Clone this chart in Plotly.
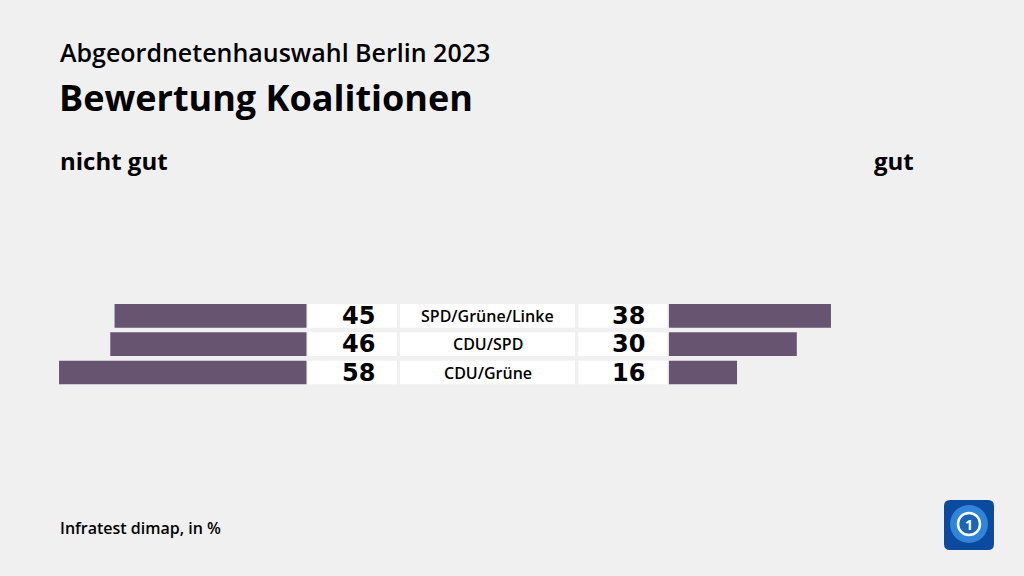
import plotly.graph_objects as go

# ---- data ----
koalitionen = ["SPD/Grüne/Linke", "CDU/SPD", "CDU/Grüne"]
nicht_gut = [45, 46, 58]
gut = [38, 30, 16]

W, H = 1024, 576
BG = "#f0f0f0"
BAR = "#675470"
FONT = "Open Sans"
NUMFONT = "DejaVu Sans"
rows = list(range(len(koalitionen)))


def px(x):
    return x / W


def py(y):
    return (H - y) / H


fig = go.Figure()
fig.add_trace(go.Bar(y=rows, x=nicht_gut, orientation="h", xaxis="x", yaxis="y",
                     marker=dict(color=BAR, line=dict(width=0)), width=0.837,
                     hoverinfo="skip", showlegend=False))
fig.add_trace(go.Bar(y=rows, x=gut, orientation="h", xaxis="x2", yaxis="y",
                     marker=dict(color=BAR, line=dict(width=0)), width=0.837,
                     hoverinfo="skip", showlegend=False))

scale = 4.27  # px per percent
left_end = 306.7
right_start = 668.7

shapes = []
annotations = []
for i, (lab, a, b) in enumerate(zip(koalitionen, nicht_gut, gut)):
    for x0, x1 in [(307.7, 397), (400, 575), (578.3, 667.3)]:
        shapes.append(dict(type="rect", xref="paper", yref="y", x0=px(x0), x1=px(x1),
                           y0=i - 0.4185, y1=i + 0.4185, fillcolor="#ffffff",
                           line=dict(width=0), layer="below"))
    annotations.append(dict(xref="paper", yref="y", x=px(487.5), y=i, text=lab,
                            showarrow=False, xanchor="center", yanchor="middle",
                            font=dict(family=FONT, size=16, color="#000000", weight=600)))
    annotations.append(dict(xref="paper", yref="y", x=px(377), y=i, text=str(a),
                            showarrow=False, xanchor="right", yanchor="middle",
                            font=dict(family=NUMFONT, size=24, color="#000000", weight=700)))
    annotations.append(dict(xref="paper", yref="y", x=px(647), y=i, text=str(b),
                            showarrow=False, xanchor="right", yanchor="middle",
                            font=dict(family=NUMFONT, size=24, color="#000000", weight=700)))

# titles
annotations += [
    dict(xref="paper", yref="paper", x=px(58), y=py(52), text="Abgeordnetenhauswahl Berlin 2023",
         showarrow=False, xanchor="left", yanchor="middle",
         font=dict(family=FONT, size=25, color="#000000", weight=600)),
    dict(xref="paper", yref="paper", x=px(57), y=py(98), text="Bewertung Koalitionen",
         showarrow=False, xanchor="left", yanchor="middle",
         font=dict(family=FONT, size=36, color="#000000", weight=700)),
    dict(xref="paper", yref="paper", x=px(58), y=py(161), text="nicht gut",
         showarrow=False, xanchor="left", yanchor="middle",
         font=dict(family=FONT, size=24, color="#000000", weight=700)),
    dict(xref="paper", yref="paper", x=px(916), y=py(161), text="gut",
         showarrow=False, xanchor="right", yanchor="middle",
         font=dict(family=FONT, size=24, color="#000000", weight=700)),
    dict(xref="paper", yref="paper", x=px(58), y=py(528), text="Infratest dimap, in %",
         showarrow=False, xanchor="left", yanchor="middle",
         font=dict(family=FONT, size=16, color="#000000", weight=600)),
]

# logo (ARD Das Erste style)
lx0, ly0, lx1, ly1, r = 944, 500, 994, 550, 6
path = (f"M {px(lx0 + r)} {py(ly0)} L {px(lx1 - r)} {py(ly0)} "
        f"Q {px(lx1)} {py(ly0)} {px(lx1)} {py(ly0 + r)} L {px(lx1)} {py(ly1 - r)} "
        f"Q {px(lx1)} {py(ly1)} {px(lx1 - r)} {py(ly1)} L {px(lx0 + r)} {py(ly1)} "
        f"Q {px(lx0)} {py(ly1)} {px(lx0)} {py(ly1 - r)} L {px(lx0)} {py(ly0 + r)} "
        f"Q {px(lx0)} {py(ly0)} {px(lx0 + r)} {py(ly0)} Z")
shapes.append(dict(type="path", xref="paper", yref="paper", path=path,
                   fillcolor="#0b4a9e", line=dict(width=0)))
cx, cy = 969, 524
shapes.append(dict(type="circle", xref="paper", yref="paper",
                   x0=px(cx - 19), x1=px(cx + 19), y0=py(cy + 19), y1=py(cy - 19),
                   fillcolor="#2f86d8", line=dict(width=0)))
shapes.append(dict(type="circle", xref="paper", yref="paper",
                   x0=px(cx - 11), x1=px(cx + 11), y0=py(cy + 11), y1=py(cy - 11),
                   fillcolor="#1c64b8", line=dict(width=2.5, color="#ffffff")))
annotations.append(dict(xref="paper", yref="paper", x=px(cx), y=py(cy), text="1",
                        showarrow=False, xanchor="center", yanchor="middle",
                        font=dict(family=FONT, size=14, color="#ffffff", weight=700)))

pitch = 28.33
c0 = 315.85
yr_top = -c0 / pitch
yr_bot = (H - c0) / pitch

fig.update_layout(
    width=W, height=H,
    margin=dict(l=0, r=0, t=0, b=0),
    paper_bgcolor=BG, plot_bgcolor=BG,
    barmode="overlay",
    xaxis=dict(domain=[0, px(left_end)], range=[left_end / scale, 0],
               visible=False, fixedrange=True),
    xaxis2=dict(domain=[px(right_start), 1], range=[0, (W - right_start) / scale],
                visible=False, fixedrange=True, anchor="y"),
    yaxis=dict(domain=[0, 1], range=[yr_bot, yr_top], visible=False, fixedrange=True),
    shapes=shapes,
    annotations=annotations,
    showlegend=False,
)

fig.write_html("out.html", config={"displayModeBar": False},
               post_script="document.body.style.margin='0';document.body.style.background='#f0f0f0';")
